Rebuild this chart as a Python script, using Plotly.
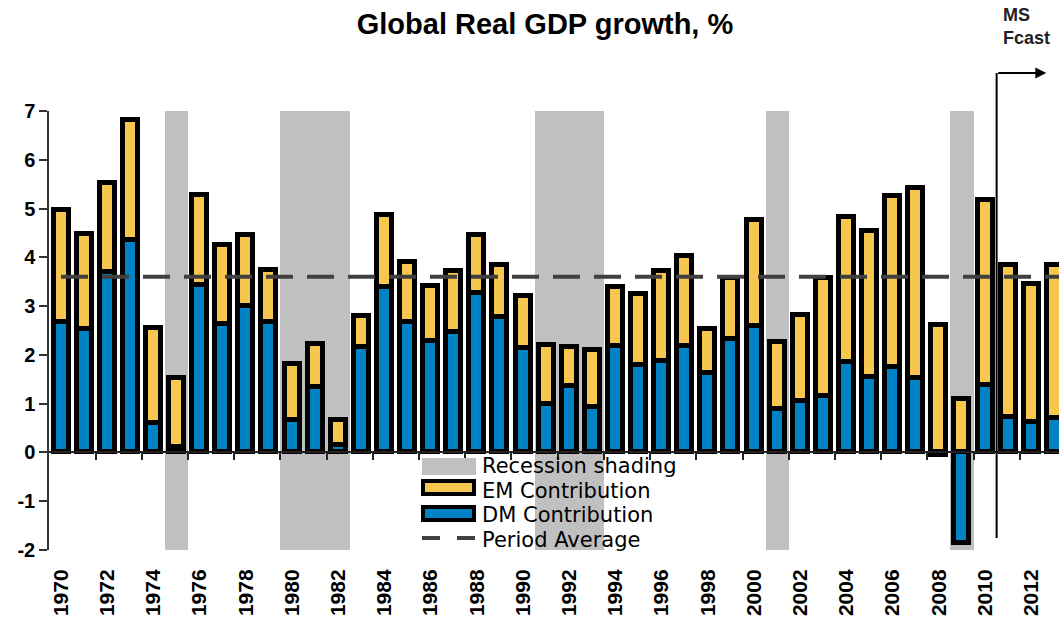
import plotly.graph_objects as go

# ---- data -------------------------------------------------------------
years = list(range(1970, 2014))

dm_contribution = [
    2.67, 2.53, 3.70, 4.35, 0.61, 0.12, 3.43, 2.63, 3.01, 2.67,
    0.66, 1.35, 0.15, 2.17, 3.40, 2.67, 2.29, 2.46, 3.26, 2.77,
    2.15, 1.00, 1.36, 0.94, 2.19, 1.80, 1.87, 2.18, 1.63, 2.32,
    2.60, 0.90, 1.05, 1.15, 1.85, 1.55, 1.76, 1.53, -0.05, -1.85,
    1.39, 0.72, 0.63, 0.70,
]

em_contribution = [
    2.30, 1.95, 1.83, 2.46, 1.94, 1.40, 1.84, 1.62, 1.44, 1.08,
    1.16, 0.88, 0.52, 0.62, 1.47, 1.23, 1.13, 1.27, 1.20, 1.07,
    1.06, 1.21, 0.81, 1.16, 1.20, 1.45, 1.86, 1.85, 0.91, 1.25,
    2.16, 1.36, 1.77, 2.42, 2.98, 3.00, 3.50, 3.90, 2.62, 1.10,
    3.79, 3.12, 2.82, 3.14,
]

recession_years = [1975, 1980, 1981, 1982, 1991, 1992, 1993, 2001, 2009]
period_average = 3.6
forecast_start = 2010.5

x_tick_years = list(range(1970, 2013, 2))
x_tick_labels = [str(y) for y in x_tick_years]
y_ticks = list(range(-2, 8))

# ---- styling ----------------------------------------------------------
Y_MIN, Y_MAX = -2, 7
X_RANGE = [1969.48, 2013.2]
FONT = "Liberation Sans, Arial, sans-serif"
LEGEND_FONT = "DejaVu Sans, Arial, sans-serif"
YELLOW = "#F6C64E"
BLUE = "#0083C6"
GREY = "#C0C0C0"
DASH_GREY = "#404040"

W, H = 1059, 623
M_L, M_R, M_T, M_B = 49, 0, 111, 73
PLOT_W = W - M_L - M_R
PLOT_H = H - M_T - M_B


def px_x(p):
    return (p - M_L) / PLOT_W


def px_y(p):
    return (H - M_B - p) / PLOT_H


fig = go.Figure()

# recession shading spanning the full value range
fig.add_trace(go.Bar(
    x=recession_years,
    y=[Y_MAX - Y_MIN] * len(recession_years),
    base=Y_MIN,
    width=1.0,
    marker=dict(color=GREY, line=dict(width=0)),
    xaxis="x", yaxis="y",
    showlegend=False, hoverinfo="skip",
))

bar_line = dict(color="black", width=5)
fig.add_trace(go.Bar(
    x=years, y=dm_contribution, name="DM Contribution",
    width=0.65, marker=dict(color=BLUE, line=bar_line),
    xaxis="x2", yaxis="y", showlegend=False,
))
fig.add_trace(go.Bar(
    x=years, y=em_contribution, name="EM Contribution",
    width=0.65, marker=dict(color=YELLOW, line=bar_line),
    xaxis="x2", yaxis="y", showlegend=False,
))
fig.add_trace(go.Scatter(
    x=years + [X_RANGE[1]], y=[period_average] * (len(years) + 1),
    mode="lines", name="Period Average",
    line=dict(color=DASH_GREY, width=4, dash="27px,14px"),
    xaxis="x2", yaxis="y", showlegend=False,
))

# forecast marker: vertical rule plus arrow to the right
fig.add_shape(type="line", xref="x", yref="paper",
              x0=forecast_start, x1=forecast_start,
              y0=px_y(538), y1=px_y(73),
              line=dict(color="black", width=2), layer="above")
fig.add_annotation(xref="x", yref="paper", x=2012.65, y=px_y(73),
                   axref="x", ayref="pixel", ax=forecast_start, ay=0,
                   text="", showarrow=True, arrowhead=2, arrowsize=1.1,
                   arrowwidth=2, arrowcolor="black", standoff=0)
fig.add_annotation(xref="paper", yref="paper", x=px_x(1001), y=px_y(27),
                   xanchor="left", yanchor="middle", align="left",
                   text="<b>MS<br>Fcast</b>", showarrow=False,
                   font=dict(family=FONT, size=18, color="#222"))

# legend drawn as shapes + labels
lx0, lx1 = px_x(422), px_x(476)
fig.add_shape(type="rect", xref="paper", yref="paper",
              x0=lx0, x1=lx1, y0=px_y(475), y1=px_y(458),
              fillcolor=GREY, line=dict(width=0))
fig.add_shape(type="rect", xref="paper", yref="paper",
              x0=px_x(423), x1=px_x(474), y0=px_y(494), y1=px_y(481),
              fillcolor=YELLOW, line=dict(color="black", width=4))
fig.add_shape(type="rect", xref="paper", yref="paper",
              x0=px_x(423), x1=px_x(474), y0=px_y(520), y1=px_y(507),
              fillcolor=BLUE, line=dict(color="black", width=4))
fig.add_shape(type="line", xref="paper", yref="paper",
              x0=lx0, x1=lx1, y0=px_y(538), y1=px_y(538),
              line=dict(color=DASH_GREY, width=4, dash="18px,17px"))
legend_rows = [("Recession shading", 466), ("EM Contribution", 490.5),
               ("DM Contribution", 515), ("Period Average", 539.5)]
for label, ypx in legend_rows:
    fig.add_annotation(xref="paper", yref="paper", x=px_x(481), y=px_y(ypx),
                       xanchor="left", yanchor="middle", text=label,
                       showarrow=False, borderpad=0,
                       font=dict(family=LEGEND_FONT, size=21, color="black"))

fig.update_layout(
    width=W, height=H,
    margin=dict(l=M_L, r=M_R, t=M_T, b=M_B, autoexpand=False),
    paper_bgcolor="white", plot_bgcolor="white",
    barmode="relative", bargap=0,
    title=dict(text="<b>Global Real GDP growth, %</b>",
               x=545 / W, xanchor="center", y=1 - 24 / H, yanchor="middle",
               font=dict(family=FONT, size=29, color="black")),
    xaxis=dict(
        range=X_RANGE, domain=[0, 1],
        tickmode="array", tickvals=x_tick_years, ticktext=x_tick_labels,
        tickangle=-90, ticks="outside", ticklen=10,
        tickcolor="rgba(0,0,0,0)",
        tickfont=dict(family=FONT, size=21, color="black", weight="bold"),
        showline=False, showgrid=False, zeroline=False, automargin=False,
        fixedrange=True,
    ),
    xaxis2=dict(
        overlaying="x", matches="x", anchor="free",
        position=(0 - Y_MIN) / (Y_MAX - Y_MIN), side="bottom",
        tickmode="array", tickvals=[y + 0.5 for y in range(1971, 2013, 2)],
        ticks="outside", ticklen=7, tickwidth=1.5, tickcolor="#222",
        showticklabels=False, showline=True, linecolor="#222", linewidth=2,
        showgrid=False, zeroline=False, automargin=False,
    ),
    yaxis=dict(
        range=[Y_MIN, Y_MAX], domain=[0, 1],
        tickmode="array", tickvals=y_ticks, ticktext=[str(v) for v in y_ticks],
        ticks="outside", ticklen=8, tickwidth=1.5, tickcolor="#333",
        showline=True, linecolor="#333", linewidth=1.5,
        tickfont=dict(family=FONT, size=20, color="black", weight="bold"),
        showgrid=False, zeroline=False, automargin=False,
    ),
)

fig.write_html("out.html")
